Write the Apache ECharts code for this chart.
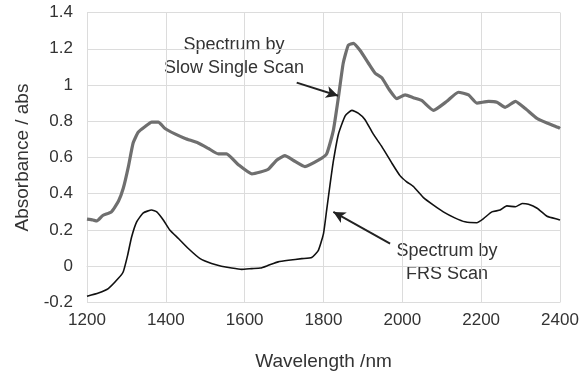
<!DOCTYPE html>
<html>
<head>
<meta charset="utf-8">
<script src="https://cdn.jsdelivr.net/npm/echarts@6/dist/echarts.min.js"></script>
<style>
  html, body { margin: 0; padding: 0; background: #fff; }
  #chart { width: 584px; height: 378px; }
</style>
</head>
<body>
<div id="chart"></div>
<script>
// slow single scan (grey, thick)
const slowWl = [1200, 1215, 1225, 1240, 1262, 1280, 1292, 1305, 1317, 1330, 1347, 1364, 1381, 1398, 1423, 1449, 1482, 1508, 1533, 1554, 1584, 1618, 1640, 1660, 1681, 1702, 1723, 1753, 1787, 1808, 1825, 1838, 1850, 1863, 1876, 1893, 1914, 1931, 1948, 1965, 1986, 2007, 2028, 2049, 2079, 2113, 2142, 2168, 2189, 2219, 2240, 2261, 2287, 2312, 2342, 2367, 2396, 2400]
const slowAbs = [0.26, 0.255, 0.25, 0.28, 0.30, 0.36, 0.43, 0.55, 0.68, 0.74, 0.77, 0.795, 0.795, 0.76, 0.73, 0.705, 0.68, 0.65, 0.62, 0.62, 0.56, 0.51, 0.52, 0.535, 0.585, 0.61, 0.585, 0.55, 0.585, 0.62, 0.75, 0.935, 1.12, 1.22, 1.23, 1.19, 1.12, 1.065, 1.04, 0.98, 0.925, 0.945, 0.93, 0.915, 0.86, 0.91, 0.96, 0.945, 0.90, 0.91, 0.905, 0.877, 0.91, 0.87, 0.815, 0.79, 0.765, 0.76]

// FRS scan (black, thin)
const frsWl = [1200, 1229, 1254, 1279, 1292, 1303, 1313, 1326, 1343, 1364, 1377, 1394, 1410, 1432, 1457, 1487, 1516, 1541, 1567, 1592, 1618, 1640, 1660, 1685, 1711, 1745, 1770, 1787, 1800, 1808, 1817, 1825, 1838, 1855, 1872, 1888, 1905, 1926, 1948, 1974, 1994, 2011, 2028, 2053, 2079, 2104, 2133, 2159, 2189, 2206, 2227, 2248, 2265, 2287, 2304, 2320, 2342, 2367, 2396, 2400]
const frsAbs = [-0.165, -0.147, -0.123, -0.068, -0.03, 0.06, 0.16, 0.245, 0.295, 0.31, 0.30, 0.254, 0.20, 0.153, 0.098, 0.042, 0.015, 0.0, -0.01, -0.017, -0.013, -0.01, 0.005, 0.024, 0.033, 0.042, 0.048, 0.088, 0.18, 0.31, 0.457, 0.58, 0.73, 0.83, 0.86, 0.845, 0.81, 0.73, 0.66, 0.567, 0.50, 0.466, 0.44, 0.38, 0.337, 0.30, 0.267, 0.245, 0.24, 0.263, 0.30, 0.31, 0.333, 0.328, 0.346, 0.342, 0.32, 0.276, 0.258, 0.255]

const xTicks = [1200, 1400, 1600, 1800, 2000, 2200, 2400]
const yTicks = [-0.2, 0, 0.2, 0.4, 0.6, 0.8, 1, 1.2, 1.4]

// arrows: [from, to] in data coords
const slowArrow = [[1732, 1.013], [1837, 0.941]]
const frsArrow = [[1969, 0.125], [1825, 0.30]]

const font = 'Liberation Sans, Arial, sans-serif'
const gridColor = '#dcdcdc'

const chart = echarts.init(document.getElementById('chart'))

const arrowLine = (pair) => ({
    type: 'line',
    data: [],
    silent: true,
    markLine: {
        silent: true,
        animation: false,
        symbol: ['none', 'arrow'],
        symbolSize: [9, 12],
        label: { show: false },
        lineStyle: { color: '#222', width: 2, type: 'solid' },
        data: [[{ coord: pair[0] }, { coord: pair[1] }]]
    }
})

const option = {
    animation: false,
    grid: { left: 87, right: 24, top: 12.5, bottom: 75.5 },
    xAxis: {
        type: 'value',
        min: xTicks[0],
        max: xTicks[xTicks.length - 1],
        interval: 200,
        name: 'Wavelength /nm',
        nameLocation: 'middle',
        nameGap: 50,
        nameTextStyle: { fontFamily: font, fontSize: 19, color: '#333' },
        axisLine: { show: true, lineStyle: { color: gridColor } },
        axisTick: { show: false },
        axisLabel: { fontFamily: font, fontSize: 17, color: '#333', margin: 9, formatter: v => String(v) },
        splitLine: { show: true, lineStyle: { color: gridColor } }
    },
    yAxis: {
        type: 'value',
        min: yTicks[0],
        max: yTicks[yTicks.length - 1],
        interval: 0.2,
        name: 'Absorbance / abs',
        nameLocation: 'middle',
        nameGap: 55,
        nameTextStyle: { fontFamily: font, fontSize: 19, color: '#333' },
        axisLine: { show: true, lineStyle: { color: gridColor } },
        axisTick: { show: false },
        axisLabel: {
            fontFamily: font, fontSize: 17, color: '#333', margin: 14,
            formatter: v => String(Math.round(v * 10) / 10)
        },
        splitLine: { show: true, lineStyle: { color: gridColor } }
    },
    series: [
        {
            name: 'Slow Single Scan',
            type: 'line',
            data: slowWl.map((w, i) => [w, slowAbs[i]]),
            showSymbol: false,
            smooth: 0.15,
            lineStyle: { color: '#6f6f6f', width: 3.2 }
        },
        {
            name: 'FRS Scan',
            type: 'line',
            data: frsWl.map((w, i) => [w, frsAbs[i]]),
            showSymbol: false,
            smooth: 0.15,
            lineStyle: { color: '#111', width: 1.6 }
        },
        arrowLine(slowArrow),
        arrowLine(frsArrow)
    ],
    graphic: [
        {
            type: 'text', x: 234, y: 34,
            style: {
                text: 'Spectrum by\nSlow Single Scan',
                font: '18px ' + font, fill: '#333',
                align: 'center', lineHeight: 23
            }
        },
        {
            type: 'text', x: 447, y: 240,
            style: {
                text: 'Spectrum by\nFRS Scan',
                font: '18px ' + font, fill: '#333',
                align: 'center', lineHeight: 23
            }
        }
    ]
}

chart.setOption(option)
</script>
</body>
</html>
